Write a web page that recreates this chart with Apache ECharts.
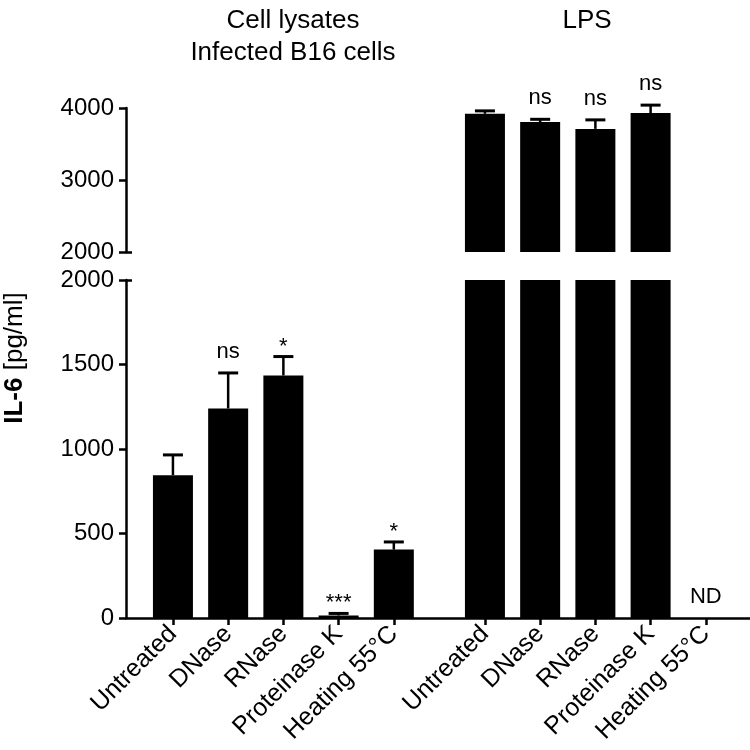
<!DOCTYPE html>
<html>
<head>
<meta charset="utf-8">
<script src="https://cdn.jsdelivr.net/npm/echarts@6.0.0/dist/echarts.min.js"></script>
<style>
html,body{margin:0;padding:0;background:#fff}
#chart{width:750px;height:750px}
</style>
</head>
<body>
<div id="chart"></div>
<script>
// IL-6 bars, broken y axis (0-2000 below, 2000-4000 above)
var treatments = ['Untreated', 'DNase', 'RNase', 'Proteinase K', 'Heating 55°C'];
var lysateTitle = 'Cell lysates\nInfected B16 cells';
var lpsTitle = 'LPS';
var lysateMeans = [845, 1240, 1435, 15, 405];
var lysateErrors = [120, 210, 112, 12, 45];
var lysateMarks = ['', 'ns', '*', '***', '*'];
var lpsMeans = [3920, 3805, 3710, 3930, null];
var lpsErrors = [40, 38, 125, 110, null];
var lpsMarks = ['', 'ns', 'ns', 'ns', 'ND'];
var lowerTicks = [0, 500, 1000, 1500, 2000];
var upperTicks = [2000, 3000, 4000];

var FONT = '"Liberation Sans", Arial, sans-serif';
var BREAK = 2000;
var groupStep = 5.65;   // x offset of the second group
var xMin = -0.85, xMax = 10.45;

var items = [];
treatments.forEach(function (t, i) {
    items.push({x: i, name: t, mean: lysateMeans[i], err: lysateErrors[i], mark: lysateMarks[i]});
});
treatments.forEach(function (t, i) {
    items.push({x: i + groupStep, name: t, mean: lpsMeans[i], err: lpsErrors[i], mark: lpsMarks[i]});
});
var positions = items.map(function (it) { return it.x; });

function nameAt(v) {
    for (var i = 0; i < items.length; i++) {
        if (Math.abs(items[i].x - v) < 1e-6) return items[i].name;
    }
    return '';
}

var lowerList = items.filter(function (it) { return it.mean == null || it.mean <= BREAK; })
    .map(function (it) { return {x: it.x, mean: it.mean || 0, err: it.err || 0, mark: it.mark}; });
var upperList = items.filter(function (it) { return it.mean != null && it.mean > BREAK; });

var barData = items.filter(function (it) { return it.mean != null; })
    .map(function (it) { return [it.x, it.mean]; });

function makeRender(list) {
    return function (params, api) {
        var it = list[params.dataIndex];
        var base = api.coord([it.x, it.mean]);
        var top = api.coord([it.x, it.mean + it.err]);
        var children = [];
        if (it.err) {
            children.push({type: 'line', shape: {x1: top[0], y1: base[1], x2: top[0], y2: top[1]},
                style: {stroke: '#000', lineWidth: 2.5}});
            children.push({type: 'line', shape: {x1: top[0] - 10, y1: top[1], x2: top[0] + 10, y2: top[1]},
                style: {stroke: '#000', lineWidth: 3}});
        }
        if (it.mark) {
            var lift = it.mark.indexOf('*') >= 0 ? 10 : 21;
            children.push({type: 'text', x: top[0], y: top[1] - lift,
                style: {text: it.mark, align: 'center', verticalAlign: 'middle',
                    font: '22px ' + FONT, fill: '#000'}});
        }
        return {type: 'group', children: children};
    };
}

var myChart = echarts.init(document.getElementById('chart'));
var axisLine = {show: true, onZero: false, lineStyle: {color: '#000', width: 2.5}};
var axisTick = {show: true, inside: false, length: 7, lineStyle: {color: '#000', width: 2.5}};
var tickLabel = {fontFamily: FONT, fontSize: 24, color: '#000', margin: 12,
    formatter: function (v) { return String(v); }};

// short inner tick at the break on each panel
function breakAxis(grid, min, max) {
    return {
        type: 'value', gridIndex: grid, min: min, max: max, position: 'left',
        axisLine: {show: false, onZero: false},
        axisTick: {show: true, inside: true, length: 6, customValues: [BREAK],
            lineStyle: {color: '#000', width: 2.5}},
        axisLabel: {show: false}, splitLine: {show: false}
    };
}

var option = {
    animation: false,
    backgroundColor: '#fff',
    title: [
        {text: lysateTitle, left: 288, top: 0, textAlign: 'center',
            textStyle: {fontFamily: FONT, fontSize: 26, fontWeight: 'normal', color: '#000', lineHeight: 32}},
        {text: lpsTitle, left: 582, top: 0, textAlign: 'center',
            textStyle: {fontFamily: FONT, fontSize: 26, fontWeight: 'normal', color: '#000', lineHeight: 32}}
    ],
    grid: [
        {left: 126, right: 0, top: 280, bottom: 132},
        {left: 126, right: 0, top: 108, height: 144}
    ],
    xAxis: [
        {
            type: 'value', gridIndex: 0, min: xMin, max: xMax,
            axisLine: axisLine,
            axisTick: {show: true, length: 7, customValues: positions, lineStyle: {color: '#000', width: 2.5}},
            axisLabel: {
                customValues: positions, rotate: 45, margin: 12,
                fontFamily: FONT, fontSize: 25, color: '#000',
                formatter: function (v) { return nameAt(v); }
            },
            splitLine: {show: false}
        },
        {type: 'value', gridIndex: 1, min: xMin, max: xMax, show: false, splitLine: {show: false}}
    ],
    yAxis: [
        {
            type: 'value', gridIndex: 0, min: lowerTicks[0], max: lowerTicks[lowerTicks.length - 1], interval: 500,
            axisLine: axisLine, axisTick: axisTick, axisLabel: tickLabel,
            splitLine: {show: false}
        },
        {
            type: 'value', gridIndex: 1, min: upperTicks[0], max: upperTicks[upperTicks.length - 1], interval: 1000,
            axisLine: axisLine, axisTick: axisTick, axisLabel: tickLabel,
            splitLine: {show: false}
        },
        breakAxis(0, lowerTicks[0], lowerTicks[lowerTicks.length - 1]),
        breakAxis(1, upperTicks[0], upperTicks[upperTicks.length - 1])
    ],
    graphic: [{
        type: 'text', x: 15, y: 358, rotation: Math.PI / 2,
        style: {
            text: '{b|IL-6} [pg/ml]', align: 'center', verticalAlign: 'middle',
            font: '26px ' + FONT, fill: '#000',
            rich: {b: {fontFamily: FONT, fontSize: 26, fontWeight: 'bold', fill: '#000'}}
        }
    }],
    series: [
        {type: 'bar', xAxisIndex: 0, yAxisIndex: 0, data: barData, barWidth: 40, clip: true,
            itemStyle: {color: '#000'}},
        {type: 'bar', xAxisIndex: 1, yAxisIndex: 1, data: barData, barWidth: 40, clip: true,
            itemStyle: {color: '#000'}},
        {type: 'custom', xAxisIndex: 0, yAxisIndex: 0, renderItem: makeRender(lowerList), clip: false,
            data: lowerList.map(function (it) { return [it.x, it.mean + it.err]; })},
        {type: 'custom', xAxisIndex: 1, yAxisIndex: 1, renderItem: makeRender(upperList), clip: false,
            data: upperList.map(function (it) { return [it.x, it.mean + it.err]; })}
    ]
};
myChart.setOption(option);
</script>
</body>
</html>
